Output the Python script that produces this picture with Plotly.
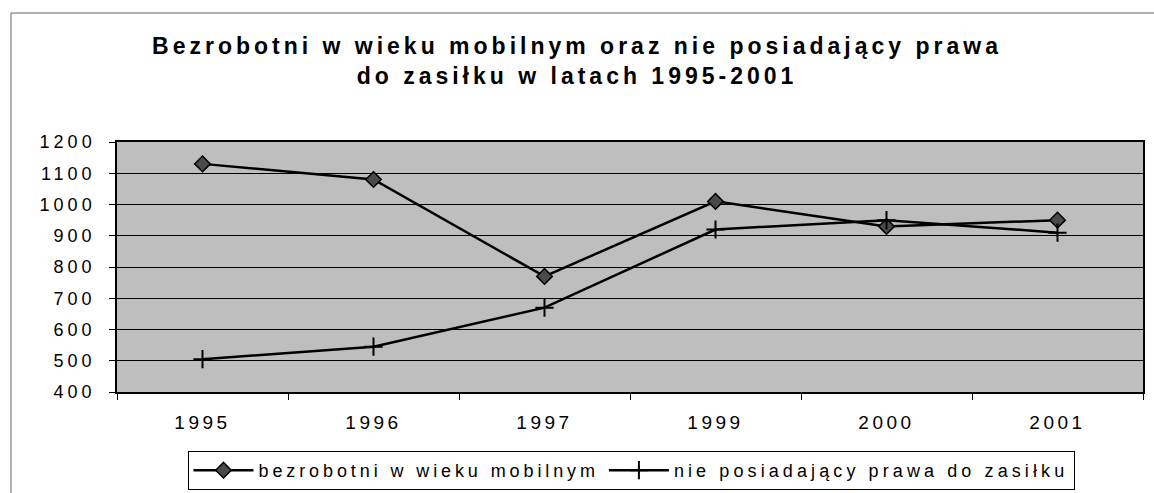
import plotly.graph_objects as go

years = ["1995", "1996", "1997", "1999", "2000", "2001"]
bezrobotni_mobilni = [1130, 1080, 770, 1010, 930, 950]
bez_prawa_do_zasilku = [505, 545, 670, 920, 950, 910]
y_ticks = [400, 500, 600, 700, 800, 900, 1000, 1100, 1200]
series_names = ["bezrobotni w wieku mobilnym", "nie posiadający prawa do zasiłku"]
title_lines = ["Bezrobotni w wieku mobilnym oraz nie posiadający prawa",
               "do zasiłku w latach 1995-2001"]


def spaced(t, px):
    return f'<span style="letter-spacing:{px}px">{t}</span>'


fig = go.Figure()
fig.add_trace(go.Scatter(
    x=years, y=bezrobotni_mobilni, name=spaced(series_names[0], 3.9),
    mode="lines+markers",
    line=dict(color="black", width=2.5),
    marker=dict(symbol="diamond", size=12, color="#4a4a4a",
                line=dict(color="black", width=1.5)),
))
fig.add_trace(go.Scatter(
    x=years, y=bez_prawa_do_zasilku, name=spaced(series_names[1], 4.1),
    mode="lines+markers",
    line=dict(color="black", width=2.5),
    marker=dict(symbol="cross-thin-open", size=13, color="black",
                line=dict(color="black", width=2)),
))

W, H = 1154, 493
L, R, T, B = 117, 11, 142, 101
pw, ph = W - L - R, H - T - B


def px_x(x):
    return (x - L) / pw


def px_y(y):
    return (H - B - y) / ph


fig.update_layout(
    width=W, height=H,
    margin=dict(l=L, r=R, t=T, b=B, autoexpand=False),
    paper_bgcolor="white",
    plot_bgcolor="#bebebe",
    font=dict(family="Liberation Sans, Arial, sans-serif", color="black"),
    title=dict(
        text="<br>".join(spaced(t, 4) for t in title_lines),
        x=0.5, xanchor="center", xref="container",
        y=1 - 54 / H, yanchor="top", yref="container",
        font=dict(size=23, color="black", weight="bold"),
    ),
    showlegend=True,
    legend=dict(
        orientation="h",
        x=px_x(631), xanchor="center",
        y=px_y(490), yanchor="bottom",
        bordercolor="black", borderwidth=1, bgcolor="white",
        font=dict(size=18, color="black"),
        itemwidth=60,
        tracegroupgap=0,
    ),
    xaxis=dict(
        type="category", range=[-0.5, 5.5],
        tickvals=years, ticktext=[spaced(y, 3.5) for y in years],
        tickson="boundaries", ticks="outside", ticklen=6, tickcolor="black",
        showline=True, linecolor="black", linewidth=1.5, mirror=True,
        showgrid=False, zeroline=False, automargin=False,
        tickfont=dict(size=19, color="black"),
        ticklabelstandoff=12,
    ),
    yaxis=dict(
        range=[400, 1200], autorange=False,
        tickvals=y_ticks, ticktext=[spaced(v, 4) for v in y_ticks],
        ticks="outside", ticklen=6, tickcolor="black",
        showline=True, linecolor="black", linewidth=1.5, mirror=True,
        showgrid=True, gridcolor="black", gridwidth=1,
        zeroline=False, automargin=False,
        tickfont=dict(size=18, color="black"),
        ticklabelstandoff=10,
    ),
    shapes=[dict(
        type="rect", xref="paper", yref="paper",
        x0=px_x(11), x1=px_x(1162), y0=px_y(500), y1=px_y(13),
        line=dict(color="#666666", width=1),
        layer="below",
    )],
)

fig.write_html("out.html",
               config={"displayModeBar": False},
               post_script="document.body.style.margin='0';document.body.style.overflow='hidden';")
